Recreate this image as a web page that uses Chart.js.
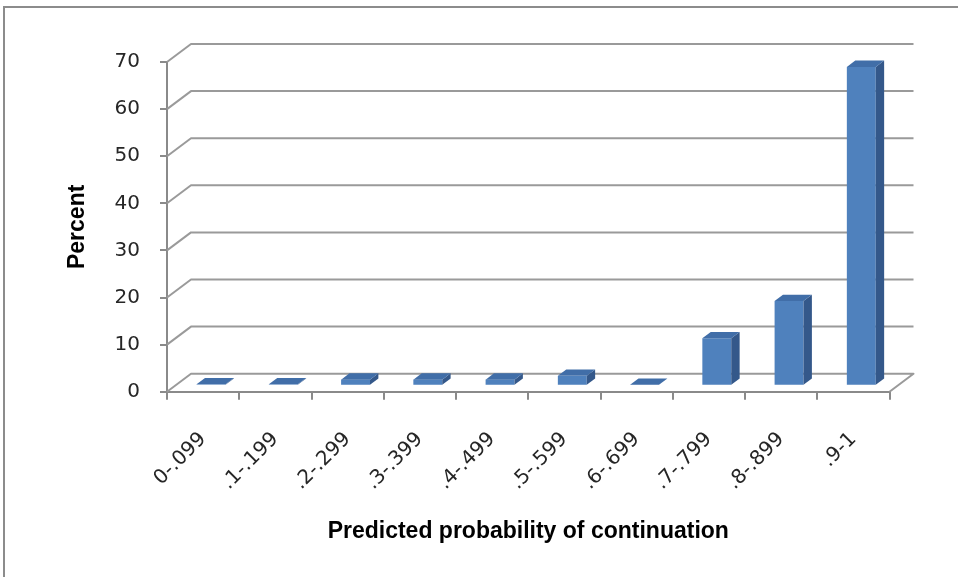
<!DOCTYPE html>
<html>
<head>
<meta charset="utf-8">
<script src="https://cdn.jsdelivr.net/npm/chart.js@4.4.1/dist/chart.umd.min.js"></script>
<style>
  html, body { margin: 0; padding: 0; background: #ffffff; }
  #wrap { width: 958px; height: 577px; }
</style>
</head>
<body>
<div id="wrap"><canvas id="chart" width="958" height="577"></canvas></div>
<script>
// Share of cases in each band of predicted probability (percent)
const categories = ['0-.099', '.1-.199', '.2-.299', '.3-.399', '.4-.499',
                    '.5-.599', '.6-.699', '.7-.799', '.8-.899', '.9-1'];
const percentValues = [0.3, 0.3, 1.3, 1.3, 1.3, 2.1, 0.2, 10.1, 18.0, 67.7];
const yTicks = [0, 10, 20, 30, 40, 50, 60, 70];

const xTitle = 'Predicted probability of continuation';
const yTitle = 'Percent';

// Oblique projection of the depth axis (pixels) and where bars sit in depth
const DEPTH_X = 24;
const DEPTH_Y = -18;
const BAR_FRONT = 0.33;
const BAR_BACK = 0.68;

const AREA = { left: 167, top: 62, right: 889.5, bottom: 391.7 };
const PAD = { left: 64, bottom: 32 };

const GRID_COLOR = '#9a9a9a';
const AXIS_COLOR = '#8a8a8a';
const FRONT_COLOR = '#4f81bd';
const SIDE_COLOR = '#34588a';
const TOP_COLOR = '#416ea8';

const tickFont = { family: 'DejaVu Sans', size: 20 };
const titleFont = { family: 'Liberation Sans', size: 23, weight: 'bold' };

// Frame and white background
const framePlugin = {
  id: 'frame',
  beforeDraw(chart) {
    const ctx = chart.ctx;
    ctx.save();
    ctx.fillStyle = '#ffffff';
    ctx.fillRect(0, 0, chart.width, chart.height);
    ctx.strokeStyle = '#8c8c8c';
    ctx.lineWidth = 2;
    ctx.strokeRect(4, 7, chart.width + 20, chart.height + 20);
    ctx.restore();
  }
};

// Side wall, back wall gridlines and floor of the 3-D plot
const wallsPlugin = {
  id: 'walls',
  beforeDatasetsDraw(chart) {
    const ctx = chart.ctx;
    const y = chart.scales.y;
    const { left, right } = chart.chartArea;
    ctx.save();
    ctx.strokeStyle = GRID_COLOR;
    ctx.lineWidth = 2;
    ctx.lineJoin = 'round';
    yTicks.forEach(v => {
      const py = y.getPixelForValue(v);
      ctx.beginPath();
      ctx.moveTo(left, py);
      ctx.lineTo(left + DEPTH_X, py + DEPTH_Y);
      ctx.lineTo(right + DEPTH_X, py + DEPTH_Y);
      if (v === 0) ctx.lineTo(right, py);
      ctx.stroke();
    });
    ctx.restore();
  }
};

// Push the front faces back into the depth, then add side and top faces
const boxPlugin = {
  id: 'boxes',
  beforeDatasetDraw(chart) {
    chart.ctx.save();
    chart.ctx.translate(BAR_FRONT * DEPTH_X, BAR_FRONT * DEPTH_Y);
  },
  afterDatasetDraw(chart, args) {
    const ctx = chart.ctx;
    ctx.restore();
    const ox = BAR_FRONT * DEPTH_X, oy = BAR_FRONT * DEPTH_Y;
    const dx = (BAR_BACK - BAR_FRONT) * DEPTH_X, dy = (BAR_BACK - BAR_FRONT) * DEPTH_Y;
    ctx.save();
    args.meta.data.forEach(bar => {
      const p = bar.getProps(['x', 'y', 'base', 'width'], true);
      const l = p.x - p.width / 2 + ox, r = p.x + p.width / 2 + ox;
      const t = p.y + oy, b = p.base + oy;
      ctx.fillStyle = SIDE_COLOR;
      ctx.beginPath();
      ctx.moveTo(r, t); ctx.lineTo(r + dx, t + dy);
      ctx.lineTo(r + dx, b + dy); ctx.lineTo(r, b);
      ctx.closePath(); ctx.fill();
      ctx.fillStyle = TOP_COLOR;
      ctx.beginPath();
      ctx.moveTo(l, t); ctx.lineTo(l + dx, t + dy);
      ctx.lineTo(r + dx, t + dy); ctx.lineTo(r, t);
      ctx.closePath(); ctx.fill();
    });
    ctx.restore();
  }
};

new Chart(document.getElementById('chart'), {
  type: 'bar',
  data: {
    labels: categories,
    datasets: [{
      data: percentValues,
      backgroundColor: FRONT_COLOR,
      borderWidth: 0,
      categoryPercentage: 1,
      barPercentage: 0.4,
      clip: false
    }]
  },
  options: {
    responsive: false,
    animation: false,
    devicePixelRatio: 1,
    layout: { padding: { left: PAD.left, top: AREA.top, right: 958 - AREA.right, bottom: PAD.bottom } },
    plugins: { legend: { display: false }, tooltip: { enabled: false } },
    scales: {
      x: {
        type: 'category',
        offset: true,
        grid: { offset: true, drawOnChartArea: false, drawTicks: true, tickLength: 8, color: AXIS_COLOR, lineWidth: 2 },
        border: { display: true, color: AXIS_COLOR, width: 2 },
        ticks: { minRotation: 45, maxRotation: 45, autoSkip: false, padding: 28, font: tickFont, color: '#262626' },
        title: { display: true, text: xTitle, font: titleFont, color: '#000000', padding: { top: 0, bottom: 0 } },
        afterFit(scale) { scale.height = 577 - PAD.bottom - AREA.bottom; }
      },
      y: {
        min: 0, max: 70,
        grid: { drawOnChartArea: false, drawTicks: true, tickLength: 7, color: AXIS_COLOR, lineWidth: 2 },
        border: { display: true, color: AXIS_COLOR, width: 2 },
        ticks: { stepSize: 10, padding: 20, font: tickFont, color: '#262626' },
        title: { display: true, text: yTitle, font: titleFont, color: '#000000', padding: { top: 0, bottom: 0 } },
        afterFit(scale) { scale.width = AREA.left - PAD.left; }
      }
    }
  },
  plugins: [framePlugin, wallsPlugin, boxPlugin]
});
</script>
</body>
</html>
